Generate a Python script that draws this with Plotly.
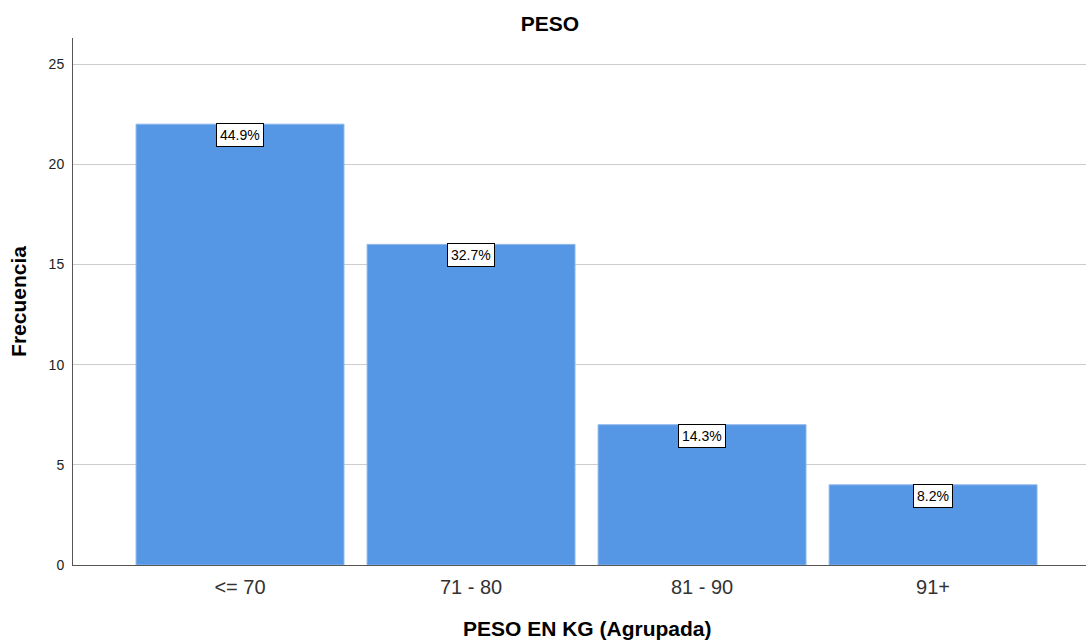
import plotly.graph_objects as go

# Frequency table for grouped weight (kg)
categorias = ["<= 70", "71 - 80", "81 - 90", "91+"]
frecuencias = [22, 16, 7, 4]
porcentajes = ["44.9%", "32.7%", "14.3%", "8.2%"]

FONT = "Liberation Sans, Arial, sans-serif"
W, H = 1086, 641
M_L, M_R, M_T, M_B = 73, 0, 38, 76
PLOT_W, PLOT_H = W - M_L - M_R, H - M_T - M_B

fig = go.Figure(
    go.Bar(
        x=categorias,
        y=frecuencias,
        marker=dict(color="#5596E5", line=dict(color="#8DB6EC", width=1)),
        width=0.9,
        hoverinfo="skip",
    )
)

# Percentage labels in boxed tags hanging from each bar top
for cat, val, pct in zip(categorias, frecuencias, porcentajes):
    fig.add_annotation(
        x=cat, y=val, xref="x", yref="y",
        text=pct, showarrow=False,
        yanchor="top", yshift=1,
        font=dict(family=FONT, size=14, color="#000000"),
        bgcolor="#FFFFFF", bordercolor="#000000", borderwidth=1, borderpad=3,
    )

# X axis title, placed below the category labels
fig.add_annotation(
    text="<b>PESO EN KG (Agrupada)</b>",
    xref="paper", yref="paper",
    x=(587 - M_L) / PLOT_W, y=-(628 - (M_T + PLOT_H)) / PLOT_H,
    xanchor="center", yanchor="middle", showarrow=False,
    font=dict(family=FONT, size=21, color="#000000"),
)

fig.update_layout(
    width=W, height=H,
    margin=dict(l=M_L, r=M_R, t=M_T, b=M_B),
    paper_bgcolor="#FFFFFF", plot_bgcolor="#FFFFFF",
    showlegend=False,
    font=dict(family=FONT, color="#222222"),
    title=dict(
        text="<b>PESO</b>", x=550 / W, xanchor="center",
        y=1 - 24 / H, yanchor="middle",
        font=dict(family=FONT, size=21, color="#000000"),
    ),
    xaxis=dict(
        type="category",
        range=[-0.723, 3.662],
        showgrid=False,
        showline=True, linecolor="#555555", linewidth=1,
        ticks="outside", ticklen=4, tickcolor="rgba(0,0,0,0)",
        tickfont=dict(family=FONT, size=20, color="#333333"),
        fixedrange=True,
    ),
    yaxis=dict(
        range=[0, 26.3],
        tickvals=[0, 5, 10, 15, 20, 25],
        showgrid=True, gridcolor="#CCCCCC", gridwidth=1,
        showline=True, linecolor="#555555", linewidth=1,
        zeroline=False,
        ticks="outside", ticklen=5, tickcolor="rgba(0,0,0,0)",
        tickfont=dict(family=FONT, size=14, color="#222222"),
        title=dict(text="<b>Frecuencia</b>", standoff=16,
                   font=dict(family=FONT, size=21, color="#000000")),
        fixedrange=True,
    ),
    bargap=0.1,
)

fig.write_html("out.html")
